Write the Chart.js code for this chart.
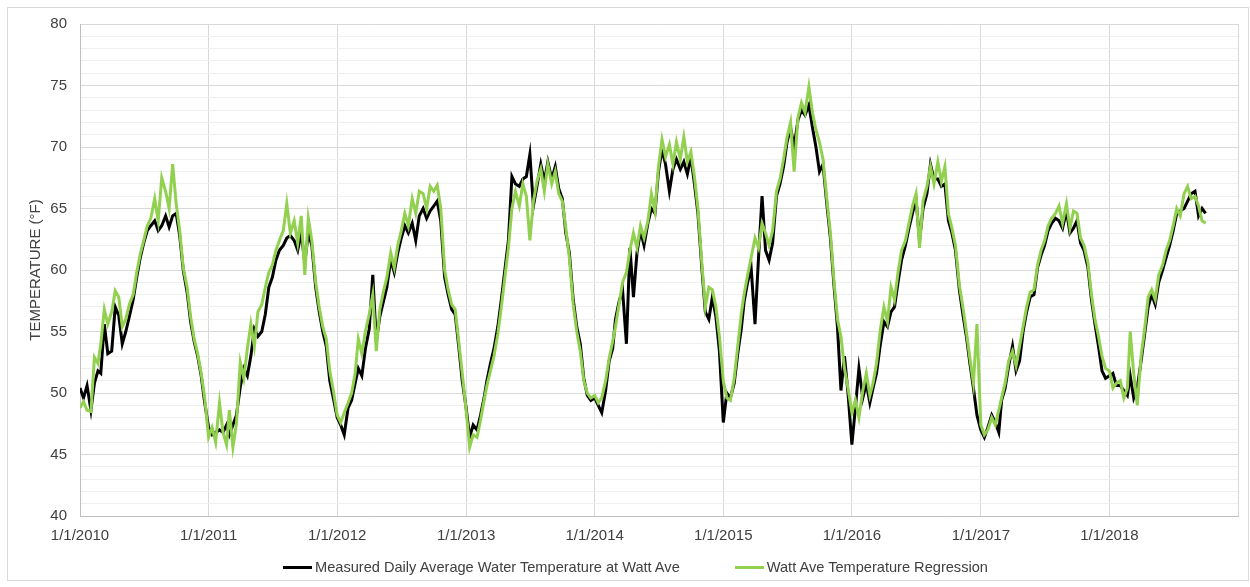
<!DOCTYPE html>
<html>
<head>
<meta charset="utf-8">
<title>Watt Ave Water Temperature</title>
<script src="https://cdn.jsdelivr.net/npm/chart.js@4.4.1/dist/chart.umd.min.js"></script>
<style>
    body { margin: 0; background: #ffffff; }
    #wrap { position: relative; width: 1250px; height: 587px; }
    #frame { position: absolute; left: 7px; top: 7px; width: 1240px; height: 572px; border: 1px solid #d9d9d9; }
    #chart { position: absolute; left: 0; top: 0; }
    #legend { position: absolute; left: 283px; top: 559px; display: flex; align-items: center;
              font-family: 'Liberation Sans', Arial, sans-serif; font-size: 14.6px; color: #404040; }
    .item { display: flex; align-items: center; margin-right: 55px; white-space: nowrap; }
    .swatch { display: inline-block; width: 29px; height: 3px; margin-right: 3px; }
</style>
</head>
<body>
<div id="wrap">
    <div id="frame"></div>
    <canvas id="chart" width="1250" height="587"></canvas>
    <div id="legend"></div>
</div>
<script>
//################# Data (3 samples a month: 1st, 11th, 21st) #################
const startYear = 2010;
const sampleDays = [1, 11, 21];
const yearTicks = [2010, 2011, 2012, 2013, 2014, 2015, 2016, 2017, 2018, 2019];
const xTickLabels = ['1/1/2010', '1/1/2011', '1/1/2012', '1/1/2013', '1/1/2014', '1/1/2015', '1/1/2016', '1/1/2017', '1/1/2018', ''];

const measured = [
    // 2010
    50.4, 49.6, 50.6, 48.6, 50.8, 51.8, 51.6, 55.6, 53.2, 53.4, 57.0, 56.3,
    54.0, 55.0, 56.2, 57.6, 59.4, 61.0, 62.2, 63.2, 63.6, 64.0, 63.2, 63.6,
    64.4, 63.5, 64.4, 64.6, 62.8, 60.0, 58.2, 55.8, 54.2, 53.0, 51.4, 49.2,
    // 2011
    47.2, 46.6, 46.8, 47.0, 46.8, 47.4, 46.6, 47.4, 48.2, 50.5, 52.0, 51.4,
    53.0, 55.2, 54.6, 55.0, 56.4, 58.6, 59.4, 60.8, 61.6, 62.0, 62.6, 62.8,
    62.4, 61.6, 63.0, 60.6, 63.0, 62.0, 58.6, 56.6, 55.0, 53.8, 51.0, 49.6,
    // 2012
    48.0, 47.4, 46.6, 48.8, 49.4, 50.8, 52.0, 51.4, 53.6, 55.2, 59.6, 54.2,
    56.2, 57.4, 58.6, 60.8, 59.8, 61.4, 62.6, 63.6, 63.0, 63.8, 62.4, 64.4,
    65.0, 64.2, 64.8, 65.2, 65.6, 64.0, 59.4, 58.0, 56.8, 56.4, 53.8, 51.0,
    // 2013
    48.8, 46.4, 47.4, 47.0, 48.2, 49.6, 51.0, 52.4, 53.6, 55.4, 57.6, 60.0,
    62.4, 67.6, 67.0, 66.8, 67.4, 67.6, 69.4, 65.2, 66.8, 68.6, 67.2, 68.8,
    67.4, 68.4, 66.6, 65.8, 63.0, 61.4, 57.6, 55.4, 54.0, 51.2, 49.8, 49.4,
    // 2014
    49.6, 49.0, 48.4, 50.2, 52.6, 53.6, 56.0, 57.4, 58.4, 54.0, 61.8, 57.8,
    61.4, 63.2, 62.0, 63.8, 65.0, 64.6, 68.0, 69.8, 68.6, 66.4, 68.2, 69.0,
    68.2, 68.8, 67.8, 69.2, 67.0, 64.6, 60.2, 56.6, 56.0, 57.8, 56.2, 53.4,
    // 2015
    47.6, 50.0, 49.6, 50.8, 53.2, 55.2, 57.4, 59.0, 60.2, 55.6, 61.0, 66.0,
    61.6, 60.8, 62.2, 66.0, 67.0, 68.4, 70.4, 71.6, 70.0, 72.2, 73.0, 72.6,
    73.4, 71.6, 70.0, 68.0, 68.6, 65.6, 62.6, 58.8, 55.4, 50.2, 53.0, 50.0,
    // 2016
    45.8, 48.8, 52.0, 49.6, 50.8, 49.2, 50.4, 51.6, 53.8, 55.8, 55.4, 56.6,
    57.0, 59.0, 60.8, 62.0, 63.4, 64.6, 65.8, 62.4, 65.0, 66.2, 68.6, 67.4,
    67.4, 66.8, 67.0, 64.0, 63.0, 61.6, 58.4, 56.4, 54.6, 52.4, 50.4, 48.2,
    // 2017
    47.0, 46.4, 47.2, 48.2, 47.6, 46.8, 49.4, 50.4, 52.2, 53.8, 51.8, 52.6,
    55.0, 56.6, 57.8, 58.0, 60.2, 61.2, 62.0, 63.2, 63.8, 64.2, 64.0, 63.4,
    64.8, 63.0, 63.4, 64.0, 62.2, 61.6, 60.2, 57.6, 55.6, 53.8, 51.8, 51.2,
    // 2018
    51.4, 51.6, 50.6, 50.6, 50.2, 49.8, 51.4, 49.6, 50.4, 52.6, 54.8, 57.0,
    58.0, 57.2, 59.0, 60.0, 61.0, 62.0, 63.2, 64.6, 64.8, 65.0, 65.6, 66.2,
    66.4, 64.4, 65.0, 64.6
];

const regression = [
    // 2010
    48.8, 49.3, 48.6, 48.5, 52.9, 52.4, 54.0, 56.8, 55.6, 56.6, 58.3, 57.8,
    55.4, 56.0, 57.2, 58.0, 59.8, 61.3, 62.4, 63.6, 64.2, 65.8, 64.0, 67.5,
    66.4, 65.0, 68.6, 65.4, 63.2, 60.2, 58.6, 56.2, 54.4, 53.2, 51.6, 49.6,
    // 2011
    46.4, 47.2, 46.0, 49.2, 46.8, 45.8, 48.6, 45.6, 47.5, 52.5, 51.2, 53.6,
    55.6, 53.8, 56.6, 57.2, 58.6, 59.8, 60.4, 61.6, 62.4, 63.2, 65.4, 63.0,
    64.0, 62.2, 64.4, 59.6, 64.2, 62.4, 59.0, 57.0, 55.4, 54.4, 51.8, 50.2,
    // 2012
    48.2, 47.6, 48.4, 49.2, 50.0, 51.6, 54.4, 53.2, 55.0, 56.4, 58.0, 53.4,
    56.8, 58.2, 59.4, 61.4, 60.2, 62.0, 63.2, 64.6, 63.6, 65.8, 64.6, 66.4,
    66.2, 65.0, 66.8, 66.4, 66.9, 65.0, 60.0, 58.4, 57.2, 56.8, 54.2, 51.6,
    // 2013
    48.6, 45.6, 46.6, 46.4, 47.8, 49.4, 50.6, 51.8, 53.0, 54.8, 57.0, 59.4,
    61.8, 65.0, 66.4, 65.2, 67.0, 66.0, 62.4, 65.6, 67.2, 68.2, 66.4, 68.6,
    67.0, 68.0, 66.2, 65.6, 63.4, 61.0, 57.2, 55.0, 53.4, 51.0, 50.0, 49.6,
    // 2014
    49.8, 49.2, 49.6, 51.0, 52.8, 54.2, 55.4, 57.2, 59.0, 59.8, 61.6, 63.0,
    61.8, 63.6, 62.6, 64.0, 66.2, 64.8, 68.4, 70.6, 69.2, 70.2, 68.6, 70.4,
    69.0, 70.8, 68.8, 69.6, 67.6, 65.0, 60.6, 57.0, 58.6, 58.4, 57.0, 54.6,
    // 2015
    51.0, 49.6, 49.4, 51.2, 53.8, 56.4, 58.0, 59.6, 61.0, 62.6, 61.8, 63.8,
    63.0, 62.0, 63.2, 66.4, 67.4, 69.0, 70.8, 72.0, 68.0, 72.4, 73.6, 72.8,
    74.9, 72.8, 71.4, 70.4, 69.0, 66.0, 63.0, 59.2, 56.0, 54.6, 52.0, 50.4,
    // 2016
    48.4, 49.4, 48.0, 50.2, 51.6, 49.8, 50.8, 52.4, 55.0, 57.0, 55.8, 58.6,
    57.6, 59.8, 61.6, 62.4, 63.8, 65.2, 66.2, 61.8, 65.6, 66.8, 68.4, 67.0,
    68.8, 67.2, 68.4, 64.6, 63.4, 62.0, 58.8, 57.0, 55.0, 52.8, 50.8, 55.6,
    // 2017
    47.4, 46.6, 47.0, 48.0, 47.4, 48.6, 49.6, 50.8, 52.6, 53.4, 52.2, 53.8,
    55.4, 57.0, 58.2, 58.4, 60.4, 61.6, 62.4, 63.6, 64.2, 64.6, 65.2, 63.8,
    65.4, 63.4, 64.8, 64.6, 62.6, 62.0, 60.6, 58.0, 56.0, 54.6, 53.0, 52.0,
    // 2018
    51.8, 50.4, 50.8, 51.0, 49.6, 50.4, 55.0, 51.6, 49.0, 53.0, 55.2, 57.8,
    58.4, 57.6, 59.6, 60.4, 61.6, 62.4, 63.6, 65.0, 64.4, 66.2, 66.8, 65.8,
    66.0, 65.2, 64.0, 63.8
];

//################# Helpers #################
const DAY = 86400000;
const dayOf = (y, m, d) => Date.UTC(y, m, d) / DAY;

// x position (days since epoch) of sample i
const sampleDay = (i) => dayOf(startYear, Math.floor(i / 3), sampleDays[i % 3]);

const toPoints = (values) => values.map((v, i) => ({ x: sampleDay(i), y: v }));

//################# Create the chart #################
const chart = new Chart(document.getElementById('chart'), {
    type: 'line',
    data: {
        datasets: [
            {
                label: 'Measured Daily Average Water Temperature at Watt Ave',
                data: toPoints(measured),
                borderColor: '#000000',
                backgroundColor: '#000000',
                borderWidth: 3,
                pointRadius: 0,
                tension: 0,
                order: 2,
            },
            {
                label: 'Watt Ave Temperature Regression',
                data: toPoints(regression),
                borderColor: '#92d050',
                backgroundColor: '#92d050',
                borderWidth: 3,
                pointRadius: 0,
                tension: 0,
                order: 1,
            },
        ],
    },
    options: {
        responsive: false,
        animation: false,
        devicePixelRatio: 1,
        layout: { padding: { top: 24, right: 12, bottom: 41, left: 0 } },
        plugins: {
            legend: { display: false },
            tooltip: { enabled: false },
        },
        scales: {
            x: {
                type: 'linear',
                min: dayOf(2010, 0, 1),
                max: dayOf(2019, 0, 1),
                afterBuildTicks: (scale) => {
                    scale.ticks = yearTicks.map(y => ({ value: dayOf(y, 0, 1) }));
                },
                afterFit: (scale) => { scale.height = 30; },
                ticks: {
                    autoSkip: false,
                    maxRotation: 0,
                    padding: 11,
                    color: '#404040',
                    font: { family: "'Liberation Sans', Arial, sans-serif", size: 15 },
                    callback: (value, index) => xTickLabels[index],
                },
                grid: { color: '#d9d9d9', drawTicks: false },
                border: { color: '#bfbfbf' },
            },
            y: {
                min: 40,
                max: 80,
                afterFit: (scale) => { scale.width = 80; },
                ticks: {
                    stepSize: 1,
                    autoSkip: false,
                    padding: 13,
                    color: '#404040',
                    font: { family: "'Liberation Sans', Arial, sans-serif", size: 15 },
                    callback: (value) => (value % 5 === 0 ? value : ''),
                },
                grid: {
                    drawTicks: false,
                    color: (ctx) => (ctx.tick && ctx.tick.value % 5 === 0 ? '#d9d9d9' : '#efefef'),
                },
                border: { color: '#bfbfbf' },
                title: {
                    display: true,
                    text: 'TEMPERATURE (°F)',
                    color: '#404040',
                    font: { family: "'Liberation Sans', Arial, sans-serif", size: 15 },
                    padding: { top: 27, bottom: 0 },
                },
            },
        },
    },
});

//################# Legend built from the datasets #################
const legend = document.getElementById('legend');
chart.data.datasets.forEach(ds => {
    const item = document.createElement('span');
    item.className = 'item';
    const swatch = document.createElement('span');
    swatch.className = 'swatch';
    swatch.style.backgroundColor = ds.borderColor;
    const text = document.createElement('span');
    text.textContent = ds.label;
    item.appendChild(swatch);
    item.appendChild(text);
    legend.appendChild(item);
});
</script>
</body>
</html>
